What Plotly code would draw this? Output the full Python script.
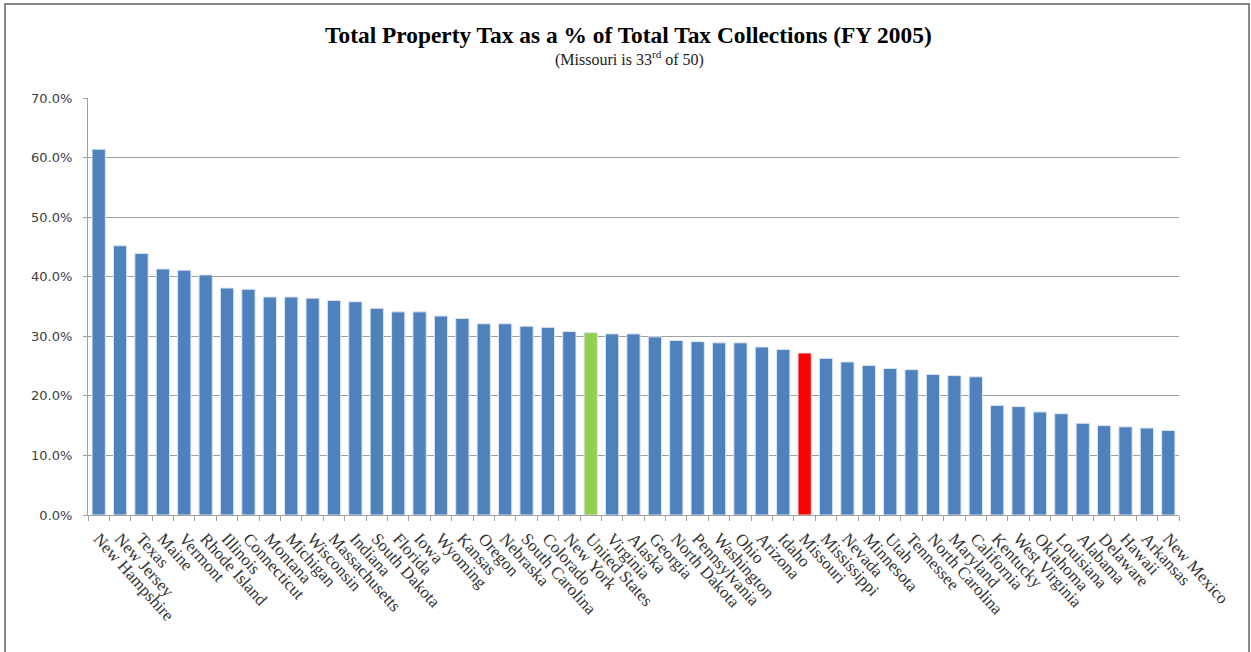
import plotly.graph_objects as go

states = ["New Hampshire", "New Jersey", "Texas", "Maine", "Vermont", "Rhode Island",
          "Illinois", "Connecticut", "Montana", "Michigan", "Wisconsin", "Massachusetts",
          "Indiana", "South Dakota", "Florida", "Iowa", "Wyoming", "Kansas", "Oregon",
          "Nebraska", "South Carolina", "Colorado", "New York", "United States", "Virginia",
          "Alaska", "Georgia", "North Dakota", "Pennsylvania", "Washington", "Ohio",
          "Arizona", "Idaho", "Missouri", "Mississippi", "Nevada", "Minnesota", "Utah",
          "Tennessee", "North Carolina", "Maryland", "California", "Kentucky",
          "West Virginia", "Oklahoma", "Louisiana", "Alabama", "Delaware", "Hawaii",
          "Arkansas", "New Mexico"]

pct = [61.4, 45.2, 43.9, 41.3, 41.1, 40.3, 38.1, 37.9, 36.6, 36.6, 36.4, 36.0,
       35.8, 34.7, 34.1, 34.1, 33.4, 33.0, 32.1, 32.1, 31.7, 31.5, 30.8, 30.6, 30.4,
       30.4, 29.9, 29.3, 29.1, 28.9, 28.9, 28.2, 27.8, 27.2, 26.3, 25.7, 25.1, 24.6,
       24.4, 23.6, 23.4, 23.2, 18.4, 18.2, 17.3, 17.0, 15.4, 15.0, 14.8, 14.6, 14.2]

y_ticks = [0, 10, 20, 30, 40, 50, 60, 70]

title_text = "Total Property Tax as a % of Total Tax Collections (FY 2005)"
subtitle_text = "(Missouri is 33<sup>rd</sup> of 50)"

BLUE = "#4F81BD"
GREEN = "#92D050"
RED = "#FF0000"
colors = [GREEN if s == "United States" else RED if s == "Missouri" else BLUE for s in states]

fig = go.Figure(go.Bar(
    x=states, y=pct,
    marker=dict(color=colors, line=dict(color="#DCE6F2", width=1)),
))

W, H = 1251, 652
L, R, T, B = 88, 72, 98, 137
pw, ph = W - L - R, H - T - B

def px_x(x):
    return (x - L) / pw

def px_y(y):
    return (H - B - y) / ph

fig.update_layout(
    width=W, height=H,
    margin=dict(l=L, r=R, t=T, b=B, autoexpand=False),
    paper_bgcolor="white", plot_bgcolor="white",
    bargap=0.38,
    showlegend=False,
    xaxis=dict(
        type="category",
        automargin=False,
        tickangle=48,
        ticklabelstandoff=6,
        tickfont=dict(family="Liberation Serif", size=17, color="#333333"),
        showline=True, linecolor="#A0A0A0", linewidth=1,
        ticks="outside", tickson="boundaries", ticklen=5, tickcolor="#A0A0A0",
        showgrid=False,
    ),
    yaxis=dict(
        automargin=False,
        range=[0, 70],
        tickvals=y_ticks,
        ticktext=[f"{v:.1f}%" for v in y_ticks],
        ticklabelstandoff=8,
        tickfont=dict(family="DejaVu Sans", size=13, color="#404040"),
        showline=True, linecolor="#A0A0A0", linewidth=1,
        ticks="outside", ticklen=4, tickcolor="#A0A0A0",
        showgrid=True, gridcolor="#A0A0A0", gridwidth=1,
        zeroline=False,
    ),
    annotations=[
        dict(text="<b>" + title_text + "</b>", xref="paper", yref="paper",
             x=px_x(628), y=px_y(35), xanchor="center", yanchor="middle", showarrow=False,
             font=dict(family="Liberation Serif", size=23.4, color="#000000")),
        dict(text=subtitle_text, xref="paper", yref="paper",
             x=px_x(629), y=px_y(59), xanchor="center", yanchor="middle", showarrow=False,
             font=dict(family="Liberation Serif", size=16, color="#222222")),
    ],
    shapes=[dict(
        type="rect", xref="paper", yref="paper",
        x0=px_x(5), x1=px_x(1249), y0=px_y(700), y1=px_y(4),
        line=dict(color="#888888", width=2), fillcolor="rgba(0,0,0,0)", layer="below",
    )],
)

fig.write_html(
    "out.html",
    config={"displayModeBar": False},
    post_script="document.body.style.margin='0';document.body.style.overflow='hidden';",
)
